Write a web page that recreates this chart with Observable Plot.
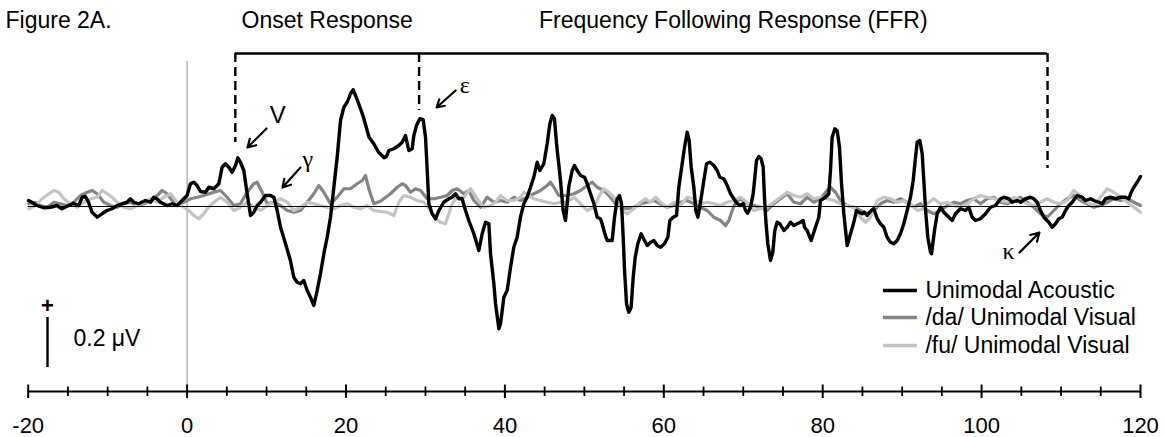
<!DOCTYPE html>
<html><head><meta charset="utf-8">
<script src="https://cdn.jsdelivr.net/npm/d3@7"></script>
<script src="https://cdn.jsdelivr.net/npm/@observablehq/plot@0.6"></script>
<style>
html,body{margin:0;padding:0;background:#fff;}
#chart{width:1165px;height:437px;overflow:hidden;}
</style></head><body><div id="chart"></div>
<script>
// ---- data (time in ms, amplitude in microvolts) ----
const acoustic = [
[-19.96,0.024],[-19.54,0.017],[-18.9,0.004],[-18.07,-0.005],[-17.2,-0.003],[-16.4,0.004],[-15.76,-0.009],[-14.9,0.004],[-14.3,0.013],[-13.66,0.004],[-13.2,0.037],[-12.8,0.04],[-12.4,0.017],[-11.97,-0.023],[-11.3,-0.043],[-10.7,-0.029],[-10.1,-0.016],[-9.45,-0.009],[-8.8,0.004],[-8.2,0.011],[-7.56,0.017],[-7.14,0.031],[-6.7,0.017],[-6.1,0.011],[-5.25,0.024],[-4.6,0.017],[-4.2,0.037],[-3.8,0.031],[-3.36,0.017],[-2.5,0.004],[-1.9,0.011],[-1.26,0.004],[-0.84,0.017],[-0.42,0.031],[0.0,0.044],[0.42,0.091],[0.84,0.097],[1.26,0.084],[1.69,0.06],[2.32,0.057],[2.74,0.077],[3.37,0.071],[3.99,0.091],[4.41,0.157],[4.83,0.171],[5.25,0.157],[5.67,0.137],[6.09,0.164],[6.39,0.195],[6.72,0.177],[7.14,0.144],[7.56,0.051],[7.98,-0.036],[8.4,-0.023],[8.82,0.004],[9.24,0.017],[9.87,0.044],[10.5,0.044],[10.92,0.037],[11.34,-0.016],[11.76,-0.083],[12.39,-0.149],[13.0,-0.216],[13.43,-0.283],[13.85,-0.303],[14.27,-0.309],[14.69,-0.296],[15.11,-0.336],[15.53,-0.363],[15.95,-0.396],[16.37,-0.336],[16.79,-0.269],[17.21,-0.189],[17.63,-0.123],[18.05,-0.043],[18.47,0.077],[18.89,0.197],[19.31,0.344],[19.73,0.397],[20.15,0.417],[20.57,0.451],[20.9,0.467],[21.2,0.444],[21.6,0.411],[22.2,0.357],[22.9,0.277],[23.5,0.251],[24.1,0.217],[24.8,0.195],[25.1,0.2],[25.39,0.224],[26.02,0.231],[26.65,0.244],[27.07,0.257],[27.49,0.284],[27.91,0.224],[28.33,0.231],[28.54,0.284],[28.87,0.324],[29.29,0.351],[29.71,0.347],[30.01,0.277],[30.22,0.144],[30.43,0.011],[30.85,-0.029],[31.27,-0.049],[31.69,-0.016],[32.3,0.017],[32.94,0.031],[33.36,0.037],[33.78,0.051],[34.2,0.031],[34.62,0.031],[35.04,-0.016],[35.46,-0.056],[36.09,-0.109],[36.72,-0.176],[37.14,-0.109],[37.56,-0.063],[37.98,-0.069],[38.19,-0.189],[38.61,-0.309],[38.82,-0.389],[39.24,-0.489],[39.45,-0.469],[39.87,-0.363],[40.29,-0.336],[40.71,-0.243],[41.12,-0.163],[41.54,-0.123],[41.96,-0.043],[42.38,0.011],[42.8,0.037],[43.22,0.077],[43.64,0.117],[44.06,0.177],[44.4,0.144],[44.9,0.171],[45.32,0.251],[45.66,0.331],[45.95,0.364],[46.24,0.351],[46.5,0.251],[47.0,0.104],[47.33,-0.016],[47.63,-0.056],[48.05,0.08],[48.47,0.144],[48.76,0.164],[49.1,0.144],[49.52,0.124],[50.02,0.117],[50.36,0.091],[50.78,0.051],[51.2,0.011],[51.62,-0.043],[52.03,-0.049],[52.24,-0.069],[52.58,-0.109],[52.87,-0.136],[53.5,-0.136],[53.8,-0.043],[54.13,0.031],[54.43,0.044],[54.68,0.011],[54.89,-0.123],[55.06,-0.256],[55.31,-0.389],[55.6,-0.423],[55.89,-0.403],[56.15,-0.283],[56.4,-0.203],[56.73,-0.149],[57.15,-0.109],[57.57,-0.136],[57.91,-0.156],[58.33,-0.143],[58.75,-0.136],[59.17,-0.156],[59.59,-0.163],[60.09,-0.149],[60.51,-0.123],[60.76,-0.056],[61.18,-0.043],[61.6,-0.036],[61.89,0.077],[62.31,0.171],[62.61,0.237],[62.94,0.297],[63.19,0.264],[63.45,0.157],[63.78,0.077],[64.03,-0.016],[64.29,-0.043],[64.62,0.017],[65.04,0.104],[65.38,0.171],[65.8,0.177],[66.3,0.164],[66.72,0.144],[67.05,0.117],[67.56,0.111],[67.98,0.084],[68.4,0.051],[68.82,0.031],[69.24,0.011],[69.66,0.004],[70.0,0.011],[70.3,-0.016],[70.55,-0.027],[70.91,-0.003],[71.25,0.051],[71.42,0.104],[71.67,0.184],[71.96,0.2],[72.25,0.191],[72.51,0.157],[72.67,0.037],[72.84,-0.056],[73.09,-0.149],[73.43,-0.216],[73.72,-0.183],[73.97,-0.096],[74.27,-0.063],[74.6,-0.069],[75.11,-0.096],[75.53,-0.083],[75.95,-0.063],[76.37,-0.076],[76.79,-0.069],[77.2,-0.063],[77.54,-0.056],[77.71,-0.083],[78.04,-0.096],[78.55,-0.136],[79.09,-0.083],[79.51,-0.043],[79.72,0.024],[80.35,0.037],[80.77,0.051],[80.98,0.144],[81.19,0.277],[81.53,0.311],[81.82,0.304],[82.11,0.237],[82.37,0.091],[82.66,-0.029],[83.08,-0.156],[83.5,-0.109],[83.92,-0.063],[84.25,-0.016],[84.55,-0.023],[84.97,-0.029],[85.26,-0.023],[85.6,-0.036],[86.1,-0.016],[86.44,-0.009],[86.86,-0.049],[87.27,-0.069],[87.69,-0.083],[88.11,-0.123],[88.53,-0.143],[88.95,-0.149],[89.37,-0.136],[89.79,-0.109],[90.21,-0.069],[90.63,-0.016],[91.05,0.037],[91.39,0.104],[91.64,0.184],[91.89,0.257],[92.23,0.264],[92.52,0.211],[92.73,0.104],[92.95,-0.016],[93.23,-0.123],[93.57,-0.183],[93.7,-0.189],[94.07,-0.096],[94.41,-0.029],[94.83,-0.003],[95.25,-0.023],[95.88,-0.043],[96.3,-0.056],[96.72,-0.029],[97.34,-0.009],[97.97,-0.016],[98.39,-0.003],[98.81,-0.043],[99.23,-0.056],[99.86,-0.049],[100.49,-0.029],[101.12,-0.003],[101.75,0.004],[102.38,0.031],[102.8,0.037],[103.43,0.031],[103.85,0.017],[104.48,0.024],[104.9,0.017],[105.53,0.031],[106.15,0.037],[106.57,0.031],[106.99,0.017],[107.41,-0.016],[107.83,-0.043],[108.46,-0.063],[108.88,-0.083],[109.3,-0.069],[109.72,-0.049],[110.14,-0.043],[110.56,-0.016],[110.98,0.004],[111.4,0.017],[112.03,0.044],[112.66,0.037],[113.08,0.024],[113.71,0.031],[114.13,0.024],[114.76,0.017],[115.18,0.011],[115.6,0.031],[116.22,0.037],[116.85,0.031],[117.48,0.037],[118.11,0.037],[118.53,0.031],[118.83,0.057],[119.16,0.077],[119.58,0.097],[120.0,0.12]
];
const daVisual = [
[-19.92,0.011],[-19.08,0.017],[-18.45,0.004],[-17.61,-0.003],[-16.77,0.017],[-15.94,0.011],[-15.1,0.004],[-14.26,0.017],[-13.42,0.044],[-12.58,0.057],[-11.95,0.064],[-11.32,0.051],[-10.48,0.017],[-9.64,0.004],[-8.8,-0.003],[-7.96,0.011],[-7.12,0.017],[-6.29,0.004],[-5.45,0.011],[-4.61,0.024],[-3.77,0.044],[-3.14,0.064],[-2.51,0.051],[-1.88,0.024],[-1.25,0.011],[-0.41,0.017],[0.43,0.031],[1.27,0.037],[2.1,0.044],[3.37,0.057],[4.2,0.064],[5.04,0.037],[5.88,0.004],[6.72,0.011],[7.56,0.057],[8.4,0.091],[8.82,0.097],[9.45,0.057],[10.08,0.011],[10.92,0.017],[11.76,0.004],[12.6,-0.016],[13.43,-0.023],[14.27,-0.016],[15.11,0.017],[15.95,0.051],[16.58,0.084],[17.21,0.057],[18.05,0.011],[18.89,0.037],[19.73,0.071],[20.57,0.071],[21.41,0.091],[22.04,0.104],[22.45,0.124],[22.87,0.071],[23.5,0.011],[24.34,0.021],[25.6,0.051],[26.44,0.077],[27.07,0.091],[27.49,0.084],[28.12,0.057],[28.75,0.071],[29.38,0.064],[30.22,0.031],[31.06,0.031],[31.9,0.037],[32.73,0.044],[33.36,0.064],[33.99,0.071],[34.83,0.051],[35.46,0.064],[36.09,0.024],[36.93,-0.003],[37.77,0.037],[38.61,0.017],[39.45,0.024],[40.29,0.017],[41.13,0.037],[41.97,0.024],[42.8,0.037],[43.64,0.051],[44.48,0.064],[45.32,0.084],[45.74,0.097],[46.16,0.077],[46.79,0.044],[47.84,0.044],[48.68,0.051],[49.52,0.064],[50.36,0.084],[50.99,0.097],[51.61,0.077],[52.45,0.064],[53.29,0.037],[53.92,0.011],[54.55,-0.003],[55.39,-0.009],[56.23,-0.003],[57.07,0.011],[57.91,0.017],[58.75,0.024],[59.59,0.011],[60.43,-0.003],[61.26,0.004],[62.1,0.017],[62.94,0.024],[63.78,0.011],[64.62,-0.003],[65.46,-0.016],[66.3,-0.043],[67.14,-0.056],[67.77,-0.076],[68.19,-0.056],[68.61,-0.016],[69.03,0.017],[69.66,0.03],[70.49,0.011],[71.33,0.004],[72.17,-0.003],[73.01,-0.016],[73.85,0.011],[74.69,0.031],[75.53,0.051],[76.37,0.017],[77.21,0.011],[78.04,0.037],[78.88,0.017],[79.72,0.031],[80.56,0.064],[80.98,0.077],[81.61,0.057],[82.24,0.024],[83.08,0.004],[83.92,-0.003],[84.76,-0.016],[85.6,-0.029],[86.44,-0.016],[87.27,0.011],[88.11,0.024],[88.95,0.017],[89.79,0.031],[90.63,0.017],[91.47,-0.003],[92.31,0.011],[93.15,-0.016],[93.99,-0.029],[94.83,-0.016],[95.67,0.004],[96.51,0.017],[97.34,0.011],[98.18,0.024],[99.02,0.031],[99.86,0.011],[100.7,0.031],[101.54,0.037],[102.38,0.017],[103.22,0.011],[104.06,0.024],[104.9,0.037],[105.74,0.017],[106.57,-0.003],[107.41,-0.029],[108.25,-0.043],[109.09,-0.016],[109.93,0.011],[110.77,0.031],[111.61,0.044],[112.45,0.024],[113.29,0.011],[114.13,-0.003],[114.97,0.004],[115.8,0.017],[116.64,0.031],[117.48,0.024],[118.32,0.031],[119.16,0.017],[120.0,0.004]
];
const fuVisual = [
[-19.92,-0.009],[-19.08,0.004],[-18.24,0.031],[-17.4,0.051],[-16.77,0.064],[-16.14,0.057],[-15.52,0.031],[-14.68,0.011],[-13.84,-0.003],[-13.0,0.017],[-12.16,0.031],[-11.32,0.037],[-10.69,0.064],[-10.06,0.051],[-9.43,0.037],[-8.8,0.017],[-7.96,-0.003],[-7.12,-0.009],[-6.29,0.004],[-5.45,0.017],[-4.61,0.031],[-3.77,0.017],[-2.93,0.037],[-2.09,0.051],[-1.25,0.017],[-0.41,-0.003],[0.22,-0.016],[0.85,-0.036],[1.48,-0.049],[2.11,-0.029],[2.53,-0.009],[3.37,0.017],[4.2,0.037],[5.04,0.017],[5.88,-0.016],[6.72,-0.003],[7.56,0.017],[8.4,-0.003],[9.24,-0.016],[10.08,0.004],[10.92,0.017],[11.76,0.031],[12.6,0.017],[13.43,-0.016],[14.27,-0.003],[15.11,0.017],[15.95,0.011],[16.79,0.004],[17.63,-0.003],[18.47,-0.009],[19.31,0.004],[20.15,0.011],[20.99,-0.003],[21.82,-0.009],[22.66,0.004],[23.5,-0.016],[24.34,-0.02],[25.18,-0.023],[26.02,-0.036],[26.65,0.017],[27.28,0.044],[28.12,0.037],[28.96,0.024],[29.8,0.017],[30.64,-0.016],[31.27,-0.049],[31.9,-0.063],[32.52,-0.069],[32.94,-0.029],[33.36,0.011],[33.99,0.037],[34.83,0.037],[35.67,0.071],[36.51,0.031],[37.35,-0.003],[38.19,0.004],[38.82,0.017],[39.45,0.044],[40.29,0.024],[41.13,0.024],[41.97,0.037],[42.38,0.057],[43.01,0.044],[43.64,0.031],[44.48,0.024],[45.32,0.017],[46.16,0.011],[47.0,0.017],[47.84,0.017],[48.68,0.037],[49.52,0.011],[50.36,-0.016],[51.2,-0.003],[52.03,0.051],[52.45,0.071],[53.08,0.057],[53.71,0.037],[54.55,-0.009],[55.39,-0.029],[56.23,-0.009],[57.07,0.017],[57.7,0.031],[58.33,0.017],[58.96,0.037],[59.59,0.017],[60.43,-0.003],[61.26,0.017],[62.1,0.004],[62.94,0.037],[63.78,0.031],[64.62,0.011],[65.46,0.017],[66.3,0.011],[67.14,0.004],[67.98,0.017],[68.82,0.024],[69.66,0.037],[70.49,0.017],[71.33,-0.016],[72.17,-0.009],[73.01,-0.003],[73.85,0.017],[74.69,0.037],[75.53,0.057],[76.37,0.044],[77.21,0.037],[78.04,0.051],[78.88,0.031],[79.72,0.037],[80.56,0.031],[81.4,0.024],[82.24,0.011],[83.08,0.004],[83.92,-0.003],[84.76,-0.043],[85.39,-0.063],[86.02,-0.043],[86.86,0.024],[87.69,0.037],[88.53,0.031],[89.37,0.017],[90.21,0.024],[91.05,0.011],[91.89,-0.016],[92.73,-0.01],[93.15,0.011],[93.99,0.031],[94.83,0.011],[95.67,0.017],[96.51,0.004],[97.34,-0.003],[98.18,0.011],[99.02,0.031],[99.86,0.044],[100.7,0.037],[101.54,0.031],[102.38,0.024],[103.22,0.017],[104.06,0.037],[104.9,0.024],[105.74,0.011],[106.57,0.004],[107.41,0.017],[108.25,0.031],[109.09,0.017],[109.93,0.011],[110.77,0.024],[111.61,0.064],[112.45,0.044],[113.29,0.017],[114.13,0.004],[114.97,0.037],[115.8,0.071],[116.64,0.057],[117.48,0.037],[118.32,0.017],[119.16,-0.003],[120.0,-0.023]
];
const seriesNames = ["Unimodal Acoustic", "/da/ Unimodal Visual", "/fu/ Unimodal Visual"];
const majorTicks = [-20, 0, 20, 40, 60, 80, 100, 120];
const minorTicks = [-15, -10, -5, 5, 10, 15, 25, 30, 35, 45, 50, 55, 65, 70, 75, 85, 90, 95, 105, 110, 115];
const titleText = "Figure 2A.";
const regions = [
  {label: "Onset Response", start: 6.07, end: 29.2},
  {label: "Frequency Following Response (FFR)", start: 29.2, end: 108.3}
];
const bracketEdges = [{t: 6.07, end: 0.256}, {t: 29.2, end: 0.384}, {t: 108.3, end: 0.152}];
const bracketTop = 0.612;
const peakLabels = [
  {label: "V", x: 11.4, y: 0.364, x1: 10.0, y1: 0.312, x2: 7.6, y2: 0.236, serif: false},
  {label: "γ", x: 15.18, y: 0.19, x1: 14.27, y1: 0.156, x2: 12.0, y2: 0.076, serif: true},
  {label: "ε", x: 34.95, y: 0.484, x1: 33.8, y1: 0.464, x2: 31.4, y2: 0.396, serif: true},
  {label: "κ", x: 103.4, y: -0.18, x1: 104.77, y1: -0.184, x2: 107.28, y2: -0.104, serif: true}
];
const scaleBar = {x: -17.57, from: -0.644, to: -0.444, label: "0.2 μV", labelX: -14.3, labelY: -0.528, plusY: -0.396};
const legendPos = {x1: 87.64, x2: 91.92, textX: 92.93, ys: [-0.336, -0.444, -0.556]};
const baselineEnd = 118.7;
const zeroLineTop = 0.58;

// ---- style ----
const colors = ["#000000", "#858585", "#c4c4c4"];
const widths = [3.4, 3.2, 3.2];
const sans = "'Liberation Sans', Arial, Helvetica, sans-serif";
const serif = "'Liberation Serif', 'Times New Roman', serif";
const yDomain = [-0.74, 0.664];

const lineOpts = (i) => ({x: d => d[0], y: d => d[1], stroke: colors[i], strokeWidth: widths[i], strokeLinejoin: "round", strokeLinecap: "round"});

const marks = [
  Plot.ruleX([0], {y1: yDomain[0], y2: zeroLineTop, stroke: "#8f8f8f", strokeWidth: 1}),
  Plot.line(daVisual, lineOpts(1)),
  Plot.line(fuVisual, lineOpts(2)),
  Plot.ruleY([0], {x1: -20, x2: baselineEnd, stroke: "#000", strokeWidth: 1.2}),
  Plot.line(acoustic, lineOpts(0)),
  // bracket
  Plot.ruleY([bracketTop], {x1: regions[0].start, x2: regions[1].end, stroke: "#000", strokeWidth: 2.5}),
  Plot.ruleX(bracketEdges, {x: "t", y1: bracketTop, y2: "end", stroke: "#000", strokeWidth: 2.4, strokeDasharray: "9,5"}),
  Plot.text(regions, {x: d => (d.start + d.end) / 2, y: bracketTop, text: "label", dy: -26, lineAnchor: "bottom", fontSize: 23, fontFamily: sans, fill: "#000"}),
  Plot.text([titleText], {frameAnchor: "top-left", dx: -22.7, dy: -13, lineAnchor: "bottom", textAnchor: "start", fontSize: 23, fontFamily: sans, fill: "#000"}),
  // axis
  Plot.ruleY([yDomain[0]], {x1: -20, x2: 120, stroke: "#000", strokeWidth: 2}),
  Plot.ruleX(majorTicks, {x: d => d, insetTop: 344.5, insetBottom: -7, stroke: "#000", strokeWidth: 2}),
  Plot.ruleX(minorTicks, {x: d => d, insetTop: 346.5, insetBottom: -5, stroke: "#000", strokeWidth: 1.8}),
  Plot.text(majorTicks, {x: d => d, frameAnchor: "bottom", dy: 34, lineAnchor: "middle", fontSize: 22, fontFamily: sans, fill: "#000"}),
  // peak annotations
  Plot.arrow(peakLabels, {x1: "x1", y1: "y1", x2: "x2", y2: "y2", stroke: "#000", strokeWidth: 2.2, headLength: 10}),
  Plot.text(peakLabels.filter(d => !d.serif), {x: "x", y: "y", text: "label", fontSize: 24, fontFamily: sans, lineAnchor: "middle", fill: "#000"}),
  Plot.text(peakLabels.filter(d => d.serif), {x: "x", y: "y", text: "label", fontSize: 24, fontFamily: serif, lineAnchor: "middle", fill: "#000"}),
  // scale bar
  Plot.ruleX([scaleBar.x], {y1: scaleBar.from, y2: scaleBar.to, stroke: "#000", strokeWidth: 2.4}),
  Plot.text(["+"], {x: scaleBar.x, y: scaleBar.plusY, fontSize: 22, fontWeight: "bold", fontFamily: sans, lineAnchor: "middle", fill: "#000"}),
  Plot.text([scaleBar.label], {x: scaleBar.labelX, y: scaleBar.labelY, textAnchor: "start", lineAnchor: "middle", fontSize: 23, fontFamily: sans, fill: "#000"})
];
// legend
seriesNames.forEach((name, i) => {
  marks.push(Plot.ruleY([legendPos.ys[i]], {x1: legendPos.x1, x2: legendPos.x2, stroke: colors[i], strokeWidth: 3.4}));
  marks.push(Plot.text([name], {x: legendPos.textX, y: legendPos.ys[i], textAnchor: "start", lineAnchor: "middle", fontSize: 23, fontFamily: sans, fill: "#000"}));
});

const chart = Plot.plot({
  width: 1165,
  height: 437,
  marginLeft: 27.7,
  marginRight: 25,
  marginTop: 40,
  marginBottom: 46,
  x: {domain: [-20, 120], axis: null},
  y: {domain: yDomain, axis: null},
  style: {background: "#fff", fontFamily: sans, overflow: "visible"},
  marks
});
document.getElementById("chart").appendChild(chart);
</script>
</body></html>
